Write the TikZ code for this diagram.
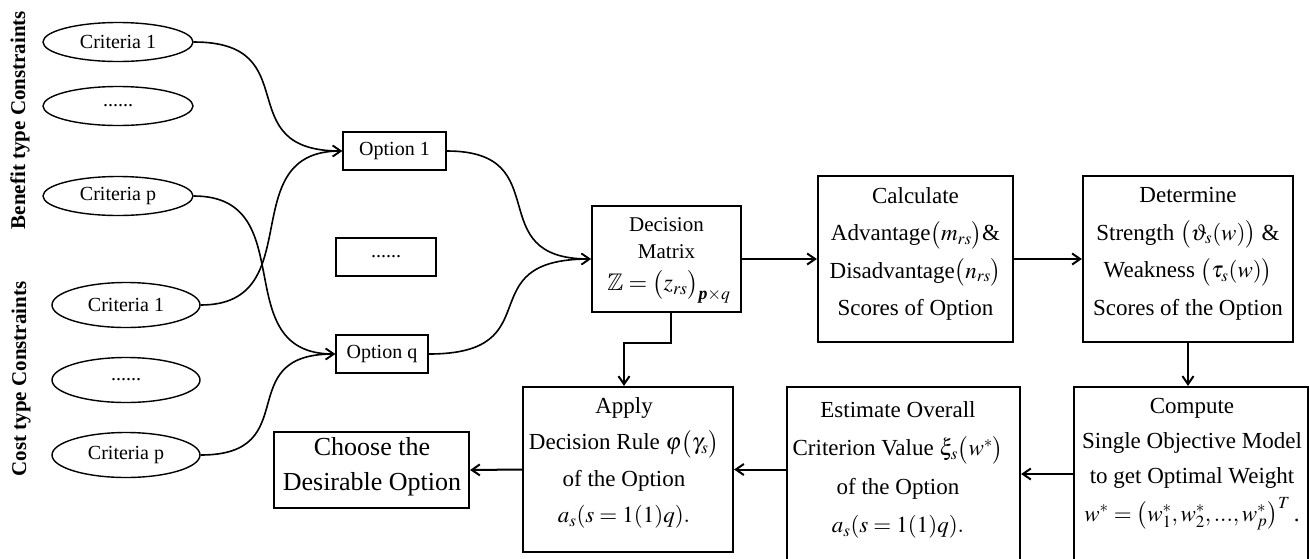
\documentclass[tikz,border=0pt]{standalone}
\usepackage{amsmath}
\usepackage{mathptmx}
\usepackage{amssymb}
\usepackage[no-math]{fontspec}
\setmainfont{Liberation Serif}
\usetikzlibrary{shapes.geometric,arrows.meta}
\tikzset{
 box/.style={draw, line width=2.2pt, inner sep=0pt},
 ell/.style={draw, ellipse, line width=1.4pt, minimum width=150pt, minimum height=39pt, inner sep=0pt, font=\fontsize{20}{24}\selectfont},
 obox/.style={draw, line width=1.8pt, minimum height=38pt, inner sep=0pt, font=\fontsize{20}{24}\selectfont},
 txt/.style={align=center, inner sep=0pt, font=\fontsize{23}{37.5}\selectfont},
 arr/.style={line width=2pt, -{Straight Barb[length=8pt,width=11pt]}},
 crv/.style={line width=1.6pt, -{Straight Barb[length=8pt,width=11pt]}},
 side/.style={rotate=90, inner sep=0pt, font=\fontsize{21}{25}\selectfont\bfseries}
}
\begin{document}
\begin{tikzpicture}[x=1pt,y=-1pt]
\useasboundingbox (0,0) rectangle (1310,558);
\clip (0,0) rectangle (1310,558);

% side labels
\node[side] (benefit) at (20,120) {Benefit type Constraints};
\node[side] (cost) at (21,379) {Cost type Constraints};

% criteria ellipses
\node[ell] (bc1) at (118,42) {Criteria 1};
\node[ell] (bc2) at (118,106) {......};
\node[ell] (bcp) at (118,196) {Criteria p};
\node[ell, minimum width=148pt, minimum height=45pt] (cc1) at (126,305) {Criteria 1};
\node[ell, minimum width=148pt, minimum height=45pt] (cc2) at (126,380) {......};
\node[ell, minimum width=148pt, minimum height=45pt] (ccp) at (126,455) {Criteria p};

% option boxes
\node[obox, minimum width=103pt] (o1) at (394.5,151) {Option 1};
\node[obox, minimum width=100pt] (od) at (386,257) {......};
\node[obox, minimum width=92pt] (oq) at (382,354) {Option q};

% main boxes
\node[box, minimum width=149pt, minimum height=106pt] (dec) at (666.5,259) {};
\node[align=center, inner sep=0pt, font=\fontsize{21}{27}\selectfont] (decT) at (666.5,238)
  {Decision\\Matrix};
\node[inner sep=0pt, font=\fontsize{24}{27}\selectfont] (decF) at (669,287)
  {$\mathbb{Z}=\bigl(z_{rs}\bigr)_{\text{\bfseries\itshape p}\times q}$};

\node[box, minimum width=195pt, minimum height=166pt] (calc) at (915.5,259) {};
\node[txt] (calcT) at (915.5,254)
  {Calculate\\ Advantage$\bigl(m_{rs}\bigr)$\&\\ Disadvantage$\bigl(n_{rs}\bigr)$\\ Scores of Option};

\node[box, minimum width=210pt, minimum height=166pt] (det) at (1188,259) {};
\node[txt] (detT) at (1188,254)
  {Determine\\ Strength $\bigl(\vartheta_s(w)\bigr)$ \&\\ Weakness $\bigl(\tau_s(w)\bigr)$\\ Scores of the Option};

\node[box, minimum width=234pt, minimum height=174pt] (comp) at (1191,474) {};
\node[txt, font=\fontsize{23}{35}\selectfont] (compT) at (1192,464)
  {Compute\\ Single Objective Model\\ to get Optimal Weight\\[3pt] $w^{*}=\bigl(w_1^{*},w_2^{*},...,w_p^{*}\bigr)^{T}$\,.};

\node[box, minimum width=233pt, minimum height=174pt] (est) at (903.5,474) {};
\node[txt, font=\fontsize{23}{38.5}\selectfont] (estT) at (898,470)
  {Estimate Overall\\ Criterion Value $\xi_s\bigl(w^{*}\bigr)$\\ of the Option\\ $a_s(s=1(1)q).$};

\node[box, minimum width=210pt, minimum height=165pt] (app) at (628,469.5) {};
\node[txt, font=\fontsize{23}{36.3}\selectfont] (appT) at (624,463)
  {Apply\\ Decision Rule $\varphi\bigl(\gamma_s\bigr)$\\ of the Option\\ $a_s(s=1(1)q).$};

\node[box, minimum width=195pt, minimum height=76pt] (ch) at (371.5,470) {};
\node[txt, font=\fontsize{26}{35}\selectfont] (chT) at (372,467) {Choose the\\ Desirable Option};

% curved connectors
\draw[crv] (bc1.east) .. controls +(115,0) and +(-115,0) .. (o1.west);
\draw[crv] (bcp.east) .. controls +(110,0) and +(-110,0) .. (oq.west);
\draw[crv] (cc1.east) .. controls +(110,0) and +(-110,0) .. (o1.west);
\draw[crv] (ccp.east) .. controls +(105,0) and +(-105,0) .. (oq.west);
\draw[crv] (o1.east) .. controls +(112,0) and +(-112,0) .. (dec.west);
\draw[crv] (oq.east) .. controls +(125,0) and +(-125,0) .. (dec.west);

% straight connectors
\draw[arr] (dec.east) -- (calc.west);
\draw[arr] (calc.east) -- (det.west);
\draw[arr] (det.south) -- (det.south |- comp.north);
\draw[arr] (comp.west) -- (est.east);
\draw[arr] (est.west |- app.east) -- (app.east);
\draw[arr] (app.west) -- (ch.east);
\draw[arr] ([xshift=4.5pt]dec.south) -- ++(0,30) -| ([xshift=-4pt]app.north);
\end{tikzpicture}
\end{document}
